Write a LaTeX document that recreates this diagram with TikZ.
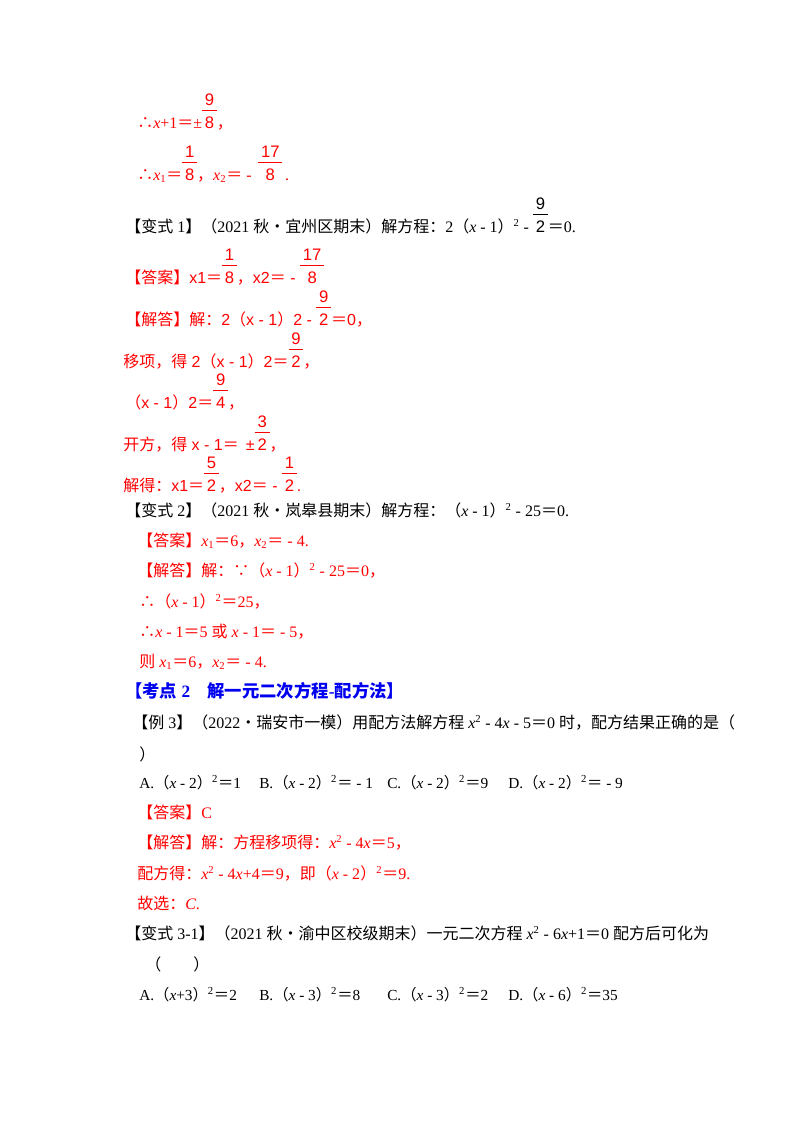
\documentclass[tikz,border=0pt]{standalone}
\usepackage{fontspec}
\setmainfont{Liberation Serif}
\setsansfont{Liberation Sans}
\newfontfamily\cjk{Noto Sans CJK SC}
\XeTeXinterchartokenstate=1
\newXeTeXintercharclass\cjkcls
\newcount\cc
\newcommand\setcls[2]{\cc=#1\relax\loop\XeTeXcharclass\cc=\cjkcls\ifnum\cc<#2\advance\cc 1\repeat}
\setcls{"4E00}{"9FFF}
\setcls{"3000}{"303F}
\setcls{"FF00}{"FFEF}
\setcls{"2022}{"2022}
\setcls{"2234}{"2235}
\def\latinfont{\rmfamily}
\XeTeXinterchartoks 0 \cjkcls = {\cjk}
\XeTeXinterchartoks 4095 \cjkcls = {\cjk}
\XeTeXinterchartoks \cjkcls 0 = {\latinfont}
\XeTeXinterchartoks \cjkcls 4095 = {\latinfont}
\newcommand\X{\textit{x}}
\newcommand\fr[2]{{\sffamily\fontsize{12.5}{14}\selectfont\begin{tabular}[b]{@{\,}c@{\,}}#1\\[-1pt]\hline\rule{0pt}{13pt}#2\end{tabular}}}
\newcommand\sq{\textsuperscript{2}}
\definecolor{myred}{RGB}{255,0,0}
\definecolor{myblue}{RGB}{0,0,240}
\tikzset{ln/.style={anchor=base west,inner sep=0pt,font=\fontsize{12}{14}\selectfont},
 rd/.style={ln,text=myred}, bk/.style={ln,text=black},
 opt/.style={bk,font=\fontsize{11.5}{14}\selectfont}}
\begin{document}
\begin{tikzpicture}[x=0.75pt,y=-0.75pt]
\useasboundingbox[fill=white] (0,0) rectangle (800,1132);
\node[rd] (l1) at (137,128) {∴\X{}+1＝±\fr{9}{8}，};
\node[rd] (l2) at (137,180) {∴\X\textsubscript{1}＝\fr{1}{8}，\X\textsubscript{2}＝ - \,\fr{17}{8}\,.};
\node[bk] (l3) at (125,232) {【变式 1】（2021 秋•宜州区期末）解方程：2（\X{} - 1）\sq{} - \fr{9}{2}＝0.};
\node[rd] (l4) at (125,283) {\def\latinfont{\sffamily}【答案】x1＝\fr{1}{8}，x2＝ - \fr{17}{8}};
\node[rd] (l5) at (125,325) {\def\latinfont{\sffamily}【解答】解：2（x - 1）2 - \fr{9}{2}＝0，};
\node[rd] (l6) at (123,367) {\def\latinfont{\sffamily}移项，得 2（x - 1）2＝\fr{9}{2}，};
\node[rd] (l7) at (125,408) {\def\latinfont{\sffamily}（x - 1）2＝\fr{9}{4}，};
\node[rd] (l8) at (123,450) {\def\latinfont{\sffamily}开方，得 x - 1＝ \,±\fr{3}{2}，};
\node[rd] (l9) at (123,491) {\def\latinfont{\sffamily}解得：x1＝\fr{5}{2}，x2＝ - \fr{1}{2}.};
\node[bk] (l10) at (125,516) {【变式 2】（2021 秋•岚皋县期末）解方程：（\X{} - 1）\sq{} - 25＝0.};
\node[rd] (l11) at (137,546) {【答案】\X\textsubscript{1}＝6，\X\textsubscript{2}＝ - 4.};
\node[rd] (l12) at (137,576) {【解答】解：∵（\X{} - 1）\sq{} - 25＝0，};
\node[rd] (l13) at (139,607) {∴（\X{} - 1）\sq＝25，};
\node[rd] (l14) at (139,637) {∴\X{} - 1＝5 或 \X{} - 1＝ - 5，};
\node[rd] (l15) at (139,667) {则 \X\textsubscript{1}＝6，\X\textsubscript{2}＝ - 4.};
\node[ln,text=myblue,font=\fontsize{13}{15}\selectfont\bfseries] (h) at (125,697) {【考点 2　解一元二次方程-配方法】};
\node[bk] (l17) at (132,728) {【例 3】（2022•瑞安市一模）用配方法解方程 \X\sq{} - 4\X{} - 5＝0 时，配方结果正确的是（};
\node[bk] (l18) at (139,760) {）};
\node[opt] (oa) at (139,788) {A.（\X{} - 2）\sq＝1};
\node[opt] (ob) at (259,788) {B.（\X{} - 2）\sq＝ - 1};
\node[opt] (oc) at (387,788) {C.（\X{} - 2）\sq＝9};
\node[opt] (od) at (508,788) {D.（\X{} - 2）\sq＝ - 9};
\node[rd] (l20) at (137,818) {【答案】C};
\node[rd] (l21) at (137,848) {【解答】解：方程移项得：\X\sq{} - 4\X＝5，};
\node[rd] (l22) at (137,879) {配方得：\X\sq{} - 4\X{}+4＝9，即（\X{} - 2）\sq＝9.};
\node[rd] (l23) at (137,909) {故选：\textit{C}.};
\node[bk] (l24) at (125,939) {【变式 3-1】（2021 秋•渝中区校级期末）一元二次方程 \X\sq{} - 6\X{}+1＝0 配方后可化为};
\node[bk] (l25) at (145,970) {（　　）};
\node[opt] (pa) at (139,1000) {A.（\X{}+3）\sq＝2};
\node[opt] (pb) at (259,1000) {B.（\X{} - 3）\sq＝8};
\node[opt] (pc) at (387,1000) {C.（\X{} - 3）\sq＝2};
\node[opt] (pd) at (508,1000) {D.（\X{} - 6）\sq＝35};
\end{tikzpicture}
\end{document}
